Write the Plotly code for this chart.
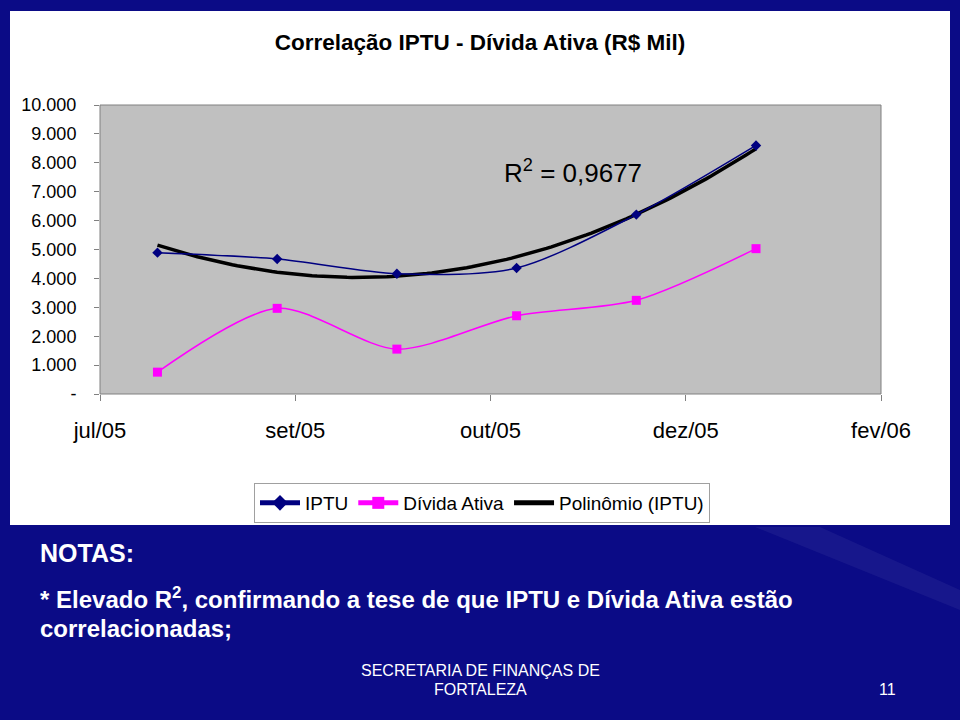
import numpy as np
import plotly.graph_objects as go

# ---------------- data ----------------
x_idx = [0, 1, 2, 3, 4, 5]                       # six monthly observations
iptu = [4891, 4672, 4163, 4360, 6208, 8600]       # IPTU (R$ mil)
divida = [756, 2964, 1553, 2707, 3241, 5029]      # Dívida Ativa (R$ mil)
x_tick_labels = ["jul/05", "set/05", "out/05", "dez/05", "fev/06"]
y_tick_values = [0, 1000, 2000, 3000, 4000, 5000, 6000, 7000, 8000, 9000, 10000]
y_tick_labels = ["-", "1.000", "2.000", "3.000", "4.000", "5.000",
                 "6.000", "7.000", "8.000", "9.000", "10.000"]
r2_text = "0,9677"

# polynomial (order 2) trendline of IPTU, as in the original chart
coef = np.polyfit(x_idx, iptu, 2)
x_fit = np.linspace(min(x_idx), max(x_idx), 121)
y_fit = np.polyval(coef, x_fit)

# ---------------- geometry ----------------
W, H = 960, 720
PL, PR, PT, PB = 100, 881, 105, 394          # plot area in pixels
X_RANGE = [-0.480, 6.044]
x_tickvals = list(np.linspace(X_RANGE[0], X_RANGE[1], len(x_tick_labels)))


def px(x):
    return (x - PL) / (PR - PL)


def py(y):
    return (PB - y) / (PB - PT)


FONT = "Liberation Sans, Arial, sans-serif"
NARROW = "Liberation Sans Narrow, Arial Narrow, Liberation Sans, Arial, sans-serif"
SLIDE = "#0b0b86"

fig = go.Figure()

fig.add_trace(go.Scatter(
    x=x_fit, y=y_fit, mode="lines", name="Polinômio (IPTU)",
    line=dict(color="black", width=3.5), legendrank=3, hoverinfo="skip"))
fig.add_trace(go.Scatter(
    x=x_idx, y=iptu, mode="lines+markers", name="IPTU",
    line=dict(color="#000080", width=1.5, shape="spline", smoothing=0.8),
    marker=dict(symbol="diamond", size=8, color="#000080"), legendrank=1))
fig.add_trace(go.Scatter(
    x=x_idx, y=divida, mode="lines+markers", name="Dívida Ativa",
    line=dict(color="#FF00FF", width=1.5, shape="spline", smoothing=0.8),
    marker=dict(symbol="square", size=9, color="#FF00FF"), legendrank=2))

shapes = [
    # white chart panel on the slide
    dict(type="rect", xref="paper", yref="paper", layer="below",
         x0=px(10), x1=px(950), y0=py(525), y1=py(11),
         fillcolor="white", line=dict(width=0)),
    # gray plot area
    dict(type="rect", xref="paper", yref="paper", layer="below",
         x0=0, x1=1, y0=0, y1=1,
         fillcolor="#C0C0C0", line=dict(color="#808080", width=1)),
    # faint light streak on the slide background
    dict(type="path", xref="paper", yref="paper", layer="below",
         path=f"M {px(755)} {py(527)} L {px(820)} {py(527)} L {px(960)} {py(590)} L {px(960)} {py(610)} Z",
         fillcolor="rgba(255,255,255,0.05)", line=dict(width=0)),
]

annotations = [
    dict(xref="x", yref="y", x=2.88, y=7700, xanchor="left", yanchor="middle",
         text="R<sup>2</sup> = " + r2_text, showarrow=False,
         font=dict(family=FONT, size=26, color="black")),
    dict(xref="paper", yref="paper", x=px(38), y=py(553), xanchor="left", yanchor="middle",
         text="<b>NOTAS:</b>", showarrow=False,
         font=dict(family=NARROW, size=25, color="white")),
    dict(xref="paper", yref="paper", x=px(38), y=py(598), xanchor="left", yanchor="middle",
         text="<b>* Elevado R<sup>2</sup>, confirmando a tese de que IPTU e Dívida Ativa estão</b>",
         showarrow=False, font=dict(family=NARROW, size=24, color="white")),
    dict(xref="paper", yref="paper", x=px(38), y=py(628), xanchor="left", yanchor="middle",
         text="<b>correlacionadas;</b>", showarrow=False,
         font=dict(family=NARROW, size=24, color="white")),
    dict(xref="paper", yref="paper", x=px(480), y=py(670), xanchor="center", yanchor="middle",
         text="SECRETARIA DE FINANÇAS DE", showarrow=False,
         font=dict(family=NARROW, size=16, color="white")),
    dict(xref="paper", yref="paper", x=px(480), y=py(690), xanchor="center", yanchor="middle",
         text="FORTALEZA", showarrow=False,
         font=dict(family=NARROW, size=16, color="white")),
    dict(xref="paper", yref="paper", x=px(898), y=py(690), xanchor="right", yanchor="middle",
         text="11", showarrow=False,
         font=dict(family=NARROW, size=16, color="white")),
]

fig.update_layout(
    width=W, height=H,
    margin=dict(l=PL, r=W - PR, t=PT, b=H - PB, pad=0),
    paper_bgcolor=SLIDE,
    plot_bgcolor="rgba(0,0,0,0)",
    title=dict(text="<b>Correlação IPTU - Dívida Ativa (R$ Mil)</b>",
               x=480 / W, xanchor="center", y=1 - 42 / H, yanchor="middle",
               font=dict(family=NARROW, size=22.5, color="black")),
    showlegend=True,
    legend=dict(orientation="h", x=px(254), xanchor="left", y=py(483), yanchor="top",
                bgcolor="white", bordercolor="#A0A0A0", borderwidth=1,
                font=dict(family=FONT, size=19, color="black"),
                itemwidth=40, itemsizing="constant"),
    shapes=shapes,
    annotations=annotations,
    font=dict(family=FONT, color="black"),
)

fig.update_xaxes(range=X_RANGE, tickmode="array", tickvals=x_tickvals, ticktext=x_tick_labels,
                 ticks="outside", ticklen=6, tickcolor="#808080", showgrid=False,
                 zeroline=False, showline=False, ticklabelstandoff=11,
                 tickfont=dict(family=FONT, size=22, color="black"), fixedrange=True)
fig.update_yaxes(range=[0, 10000], tickmode="array", tickvals=y_tick_values, ticktext=y_tick_labels,
                 ticks="outside", ticklen=5, tickcolor="#808080", showgrid=False,
                 zeroline=False, showline=False, ticklabelstandoff=14,
                 tickfont=dict(family=FONT, size=18, color="black"), fixedrange=True)

fig.write_html(
    "out.html",
    config={"displayModeBar": False},
    post_script=f"document.body.style.margin='0';document.body.style.background='{SLIDE}';",
)
